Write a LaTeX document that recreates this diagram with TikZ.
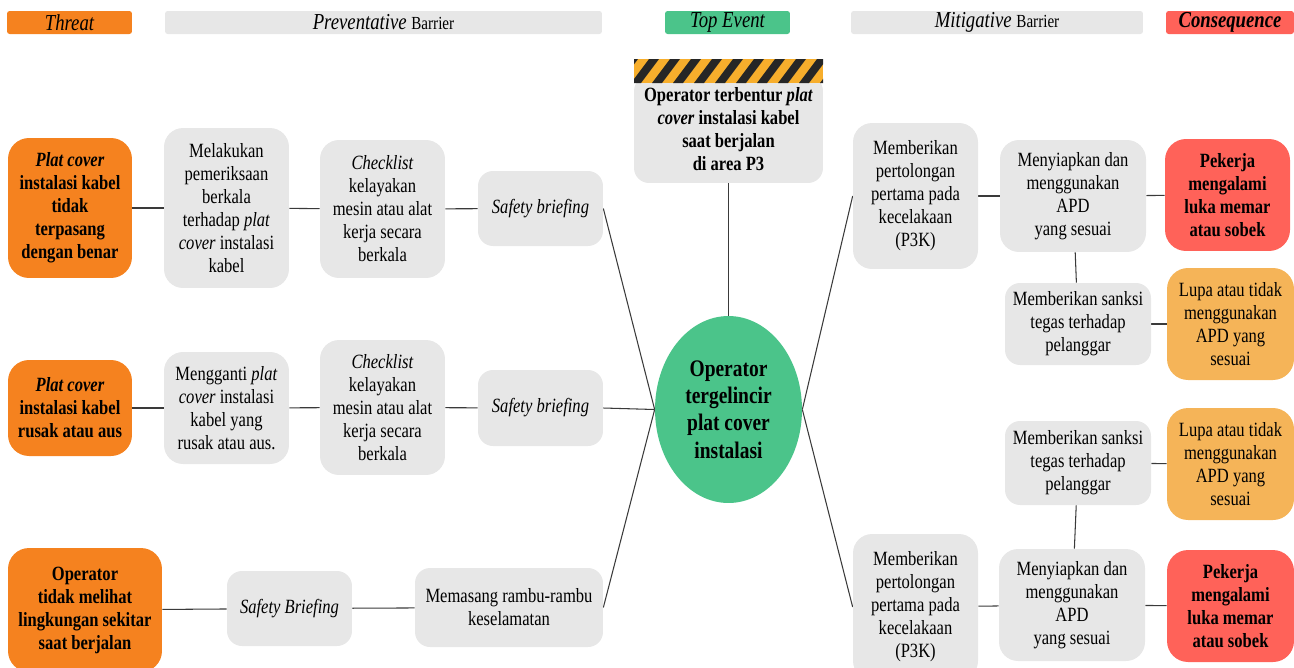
\documentclass[tikz,border=0pt]{standalone}
\usepackage{fontspec}
\setmainfont{Liberation Serif}[FakeStretch=0.82]
\usepackage{tikz}
\usetikzlibrary{shapes.geometric}
\pgfdeclarelayer{edgelayer}
\pgfdeclarelayer{nodelayer}
\pgfsetlayers{edgelayer,nodelayer,main}
\definecolor{threatorange}{HTML}{F5821F}
\definecolor{barriergray}{HTML}{E7E7E7}
\definecolor{topgreen}{HTML}{4BC48A}
\definecolor{consred}{HTML}{FF6259}
\definecolor{escorange}{HTML}{F5B458}
\definecolor{stripeorange}{HTML}{F7AE2C}
\definecolor{linegray}{HTML}{3A3A3A}
\newcommand{\bodyfont}{\fontsize{11.5}{13.1}\selectfont}
\tikzstyle{link}=[draw=linegray, line width=0.6pt]
\tikzstyle{header}=[rectangle, rounded corners=1.5pt, minimum height=0.46cm, inner sep=0pt, font=\fontsize{13}{15}\selectfont\itshape]
\tikzstyle{barrier}=[rectangle, rounded corners=0.38cm, fill=barriergray, inner sep=0pt, align=center, font=\bodyfont]
\tikzstyle{threat}=[rectangle, rounded corners=0.42cm, fill=threatorange, inner sep=0pt, align=center, font=\bodyfont\bfseries]
\tikzstyle{conseq}=[rectangle, rounded corners=0.42cm, fill=consred, inner sep=0pt, align=center, font=\bodyfont\bfseries]
\tikzstyle{escal}=[rectangle, rounded corners=0.42cm, fill=escorange, inner sep=0pt, align=center, font=\bodyfont]
\tikzstyle{topevent}=[ellipse, fill=topgreen, inner sep=0pt, align=center, font=\fontsize{13.5}{15.5}\selectfont\bfseries]

\begin{document}
\begin{tikzpicture}[x=0.02cm, y=-0.02cm]
	\useasboundingbox (0,0) rectangle (1294,667);
	\begin{pgfonlayer}{nodelayer}
		\clip (0,0) rectangle (1294,667);
		% column heads
		\node [style=header, fill=threatorange, minimum width=2.5cm] (0) at (69.5, 22.5) {Threat};
		\node [style=header, fill=barriergray, minimum width=8.74cm] (1) at (383.5, 22.5) {Preventative {\upshape\fontsize{10.5}{12}\selectfont Barrier}};
		\node [style=header, fill=topgreen, minimum width=2.5cm] (2) at (727.5, 22.5) {Top Event};
		\node [style=header, fill=barriergray, minimum width=5.84cm] (3) at (997, 22.5) {Mitigative {\upshape\fontsize{10.5}{12}\selectfont Barrier}};
		\node [style=header, fill=consred, minimum width=2.56cm, font=\fontsize{13}{15}\selectfont\itshape\bfseries] (4) at (1230, 22.5) {Consequence};
		% hazard and top event
		\node [style=barrier, rounded corners=0.3cm, minimum width=3.78cm, minimum height=2.14cm, font=\bodyfont\bfseries] (5) at (728.5, 129.5) {Operator terbentur \textit{plat}\\ \textit{cover} instalasi kabel\\ saat berjalan\\ di area P3};
		\node [style=topevent, minimum width=2.94cm, minimum height=3.74cm] (6) at (728.5, 409.5) {Operator\\ tergelincir\\ plat cover\\ instalasi};
		% threat 1
		\node [style=threat, minimum width=2.48cm, minimum height=2.8cm] (7) at (70, 208) {\textit{Plat cover}\\ instalasi kabel\\ tidak\\ terpasang\\ dengan benar};
		\node [style=barrier, minimum width=2.5cm, minimum height=3.2cm] (8) at (226.5, 208) {Melakukan\\ pemeriksaan\\ berkala\\ terhadap \textit{plat}\\ \textit{cover} instalasi\\ kabel};
		\node [style=barrier, minimum width=2.5cm, minimum height=2.76cm] (9) at (382.5, 209) {\textit{Checklist}\\ kelayakan\\ mesin atau alat\\ kerja secara\\ berkala};
		\node [style=barrier, rounded corners=0.3cm, minimum width=2.5cm, minimum height=1.5cm] (10) at (540.5, 208.5) {\textit{Safety briefing}};
		% threat 2
		\node [style=threat, minimum width=2.48cm, minimum height=1.92cm] (11) at (70, 408) {\textit{Plat cover}\\ instalasi kabel\\ rusak atau aus};
		\node [style=barrier, minimum width=2.5cm, minimum height=2.24cm] (12) at (226.5, 408) {Mengganti \textit{plat}\\ \textit{cover} instalasi\\ kabel yang\\ rusak atau aus.};
		\node [style=barrier, minimum width=2.5cm, minimum height=2.7cm] (13) at (382.5, 407.5) {\textit{Checklist}\\ kelayakan\\ mesin atau alat\\ kerja secara\\ berkala};
		\node [style=barrier, rounded corners=0.3cm, minimum width=2.5cm, minimum height=1.52cm] (14) at (540.5, 408) {\textit{Safety briefing}};
		% threat 3
		\node [style=threat, minimum width=3.08cm, minimum height=2.48cm] (15) at (85, 610) {Operator\\ tidak melihat\\ lingkungan sekitar\\ saat berjalan};
		\node [style=barrier, rounded corners=0.3cm, minimum width=2.5cm, minimum height=1.5cm] (16) at (289.5, 608.5) {\textit{Safety Briefing}};
		\node [style=barrier, rounded corners=0.3cm, minimum width=3.76cm, minimum height=1.58cm] (17) at (509, 607.5) {Memasang rambu-rambu\\ keselamatan};
		% consequence 1
		\node [style=barrier, minimum width=2.5cm, minimum height=2.92cm] (18) at (915.5, 196) {Memberikan\\ pertolongan\\ pertama pada\\ kecelakaan\\ (P3K)};
		\node [style=barrier, minimum width=2.92cm, minimum height=2.24cm] (19) at (1073, 196) {Menyiapkan dan\\ menggunakan\\ APD\\ yang sesuai};
		\node [style=conseq, minimum width=2.5cm, minimum height=2.24cm] (20) at (1227.5, 195) {Pekerja\\ mengalami\\ luka memar\\ atau sobek};
		\node [style=barrier, rounded corners=0.3cm, minimum width=2.92cm, minimum height=1.64cm] (21) at (1078, 324) {Memberikan sanksi\\ tegas terhadap\\ pelanggar};
		\node [style=escal, minimum width=2.54cm, minimum height=2.24cm] (22) at (1230.5, 324) {Lupa atau tidak\\ menggunakan\\ APD yang\\ sesuai};
		% consequence 2
		\node [style=barrier, rounded corners=0.3cm, minimum width=2.92cm, minimum height=1.68cm] (23) at (1078, 463) {Memberikan sanksi\\ tegas terhadap\\ pelanggar};
		\node [style=escal, minimum width=2.54cm, minimum height=2.24cm] (24) at (1230.5, 464) {Lupa atau tidak\\ menggunakan\\ APD yang\\ sesuai};
		\node [style=barrier, minimum width=2.5cm, minimum height=2.92cm] (25) at (915.5, 607) {Memberikan\\ pertolongan\\ pertama pada\\ kecelakaan\\ (P3K)};
		\node [style=barrier, minimum width=2.92cm, minimum height=2.24cm] (26) at (1072, 605) {Menyiapkan dan\\ menggunakan\\ APD\\ yang sesuai};
		\node [style=conseq, minimum width=2.54cm, minimum height=2.24cm] (27) at (1230.5, 606) {Pekerja\\ mengalami\\ luka memar\\ atau sobek};
	\end{pgfonlayer}
	\begin{pgfonlayer}{edgelayer}
		\draw [style=link] (7) to (8);
		\draw [style=link] (8) to (9);
		\draw [style=link] (9) to (10);
		\draw [style=link] (10.east) to (6.west);
		\draw [style=link] (11) to (12);
		\draw [style=link] (12) to (13);
		\draw [style=link] (13) to (14);
		\draw [style=link] (14.east) to (6.west);
		\draw [style=link] (15) to (16);
		\draw [style=link] (16) to (17);
		\draw [style=link] (17.east) to (6.west);
		\draw [style=link] (5) to (6);
		\draw [style=link] (6.east) to (18.west);
		\draw [style=link] (18) to (19);
		\draw [style=link] (19) to (20);
		\draw [style=link] (19) to (21);
		\draw [style=link] (21) to (22);
		\draw [style=link] (6.east) to (25.west);
		\draw [style=link] (25) to (26);
		\draw [style=link] (26) to (27);
		\draw [style=link] (26) to (23);
		\draw [style=link] (23) to (24);
	\end{pgfonlayer}
	% hazard stripes on top of box 5
	\fill [stripeorange] (634, 59) rectangle (823, 83);
	\begin{scope}
		\clip (634, 59) rectangle (823, 83);
		\foreach \x in {610, 631, ..., 830}
			\fill [black!85] (\x, 83) -- ++(10, 0) -- ++(18, -24) -- ++(-10, 0) -- cycle;
	\end{scope}
\end{tikzpicture}
\end{document}
